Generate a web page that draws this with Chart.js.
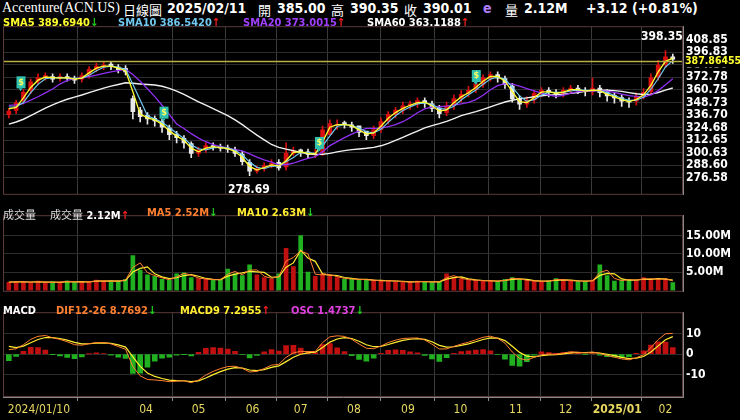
<!DOCTYPE html>
<html><head><meta charset="utf-8">
<script src="https://cdn.jsdelivr.net/npm/chart.js@4.4.1/dist/chart.umd.min.js"></script>
<style>
html,body{margin:0;padding:0;background:#000;width:740px;height:420px;overflow:hidden;font-family:"DejaVu Sans Condensed","DejaVu Sans",sans-serif}
canvas{position:absolute;left:0}
.t{position:absolute;white-space:nowrap;color:#fff;font-weight:bold;font-size:11px}
.h{position:absolute;white-space:nowrap;color:#fff;font-size:14px;top:0;font-weight:bold}
.k{font-family:'Noto Sans CJK TC';font-weight:normal;font-size:13px}
.up{color:#ff2020}.dn{color:#20d020}
</style></head><body>
<div class="h" style="left:2px;font-family:'Liberation Serif',serif;font-weight:normal">Accenture(ACN.US)</div>
<div class="h k" style="left:123px">日線圖</div>
<div class="h" style="left:167px">2025/02/11</div>
<div class="h k" style="left:258px">開</div>
<div class="h" style="left:277px">385.00</div>
<div class="h k" style="left:331px">高</div>
<div class="h" style="left:350px">390.35</div>
<div class="h k" style="left:404px">收</div>
<div class="h" style="left:423px">390.01</div>
<div class="h" style="left:483px;color:#b080ff">e</div>
<div class="h k" style="left:505px">量</div>
<div class="h" style="left:524px">2.12M</div>
<div class="h" style="left:586px">+3.12 (+0.81%)</div>

<canvas id="c1" width="740" height="189" style="top:16px"></canvas>
<canvas id="c2" width="740" height="97" style="top:205px"></canvas>
<canvas id="c3" width="740" height="118" style="top:302px"></canvas>

<div class="t" style="left:3px;top:16px;color:#ffff30">SMA5 389.6940<span class="dn">↓</span></div>
<div class="t" style="left:118px;top:16px;color:#70c8f0">SMA10 386.5420<span class="up">↑</span></div>
<div class="t" style="left:243px;top:16px;color:#a040ff">SMA20 373.0015<span class="up">↑</span></div>
<div class="t" style="left:367px;top:16px;color:#fff">SMA60 363.1188<span class="up">↑</span></div>
<div class="t" style="left:641px;top:29px;font-size:12px">398.35</div>
<div class="t" style="left:228px;top:182px;font-size:12px">278.69</div>

<div class="t" style="left:3px;top:206px;font-weight:normal;font-family:'Noto Sans CJK TC';color:#ddd">成交量</div>
<div class="t" style="left:50px;top:206px"><span style="font-weight:normal;font-family:'Noto Sans CJK TC';color:#ddd">成交量</span> 2.12M<span class="up">↑</span></div>
<div class="t" style="left:147px;top:206px;color:#ff8030">MA5 2.52M<span class="dn">↓</span></div>
<div class="t" style="left:237px;top:206px;color:#ffee30">MA10 2.63M<span class="dn">↓</span></div>

<div class="t" style="left:3px;top:304px">MACD</div>
<div class="t" style="left:56px;top:304px;color:#ff8030">DIF12-26 8.7692<span class="dn">↓</span></div>
<div class="t" style="left:180px;top:304px;color:#ffee30">MACD9 7.2955<span class="up">↑</span></div>
<div class="t" style="left:291px;top:304px;color:#e040e0">OSC 1.4737<span class="dn">↓</span></div>

<script>
// ---- data (one sample ≈ 3 trading days) ----
const preCloses=[308,305,300,298,302,310,316,322,330,333,335,338,342,345,348,345,350,348,345];
const closes=[340,348,358,368,372,374,371,373,372,370,374,380,383,384,383,380,378,340,335,333,331,325,318,315,310,300,303,307,306,305,304,300,292,283,285,288,290,286,300,302,301,299,300,322,328,327,328,325,320,317,322,330,337,341,345,347,350,348,343,338,345,352,356,360,366,372,375,372,366,352,347,350,357,360,358,357,360,362,360,359,362,358,355,353,350,349,354,358,372,384,392,390];
const opens=[337,341,350,360,369,373,373,372,373,371,371,375,381,383,385,382,381,352,341,336,333,330,324,318,314,309,300,304,307,306,305,303,299,291,283,286,288,291,287,300,303,301,299,301,318,327,329,327,326,321,317,323,331,337,341,346,347,350,347,343,339,346,353,357,361,366,372,375,371,364,352,347,351,357,360,358,357,360,362,360,359,362,358,355,353,350,350,355,359,373,385,392];
const highs=[343,351,361,371,376,377,376,376,376,374,377,383,386,387,387,385,384,355,344,339,336,333,327,321,317,311,306,310,310,309,308,306,302,294,288,291,294,294,310,306,304,304,304,326,332,332,331,330,324,320,326,334,340,344,349,350,353,353,350,346,349,356,360,364,369,375,378,378,374,367,355,354,360,363,363,361,363,365,365,363,372,365,361,358,356,353,358,362,376,389,398.35,395];
const lows=[334,338,347,357,366,370,368,369,369,367,368,372,378,380,380,377,375,333,330,328,326,320,313,310,305,296,297,301,303,302,301,297,289,278.69,281,283,286,284,284,298,297,295,296,298,324,323,324,321,316,313,314,320,328,334,338,342,344,344,340,334,336,342,349,354,358,363,369,368,362,349,342,344,348,354,354,353,354,357,357,355,356,354,350,348,345,344,346,352,356,370,382,386];
const volumes=[2.2,2.4,2.3,2.1,2.5,2.0,2.3,2.2,2.6,2.1,2.4,2.3,2.8,2.4,2.5,2.6,3.0,9.5,5.5,4.2,3.8,3.0,2.8,4.5,4.8,3.5,3.2,3.0,2.8,3.0,5.8,4.5,4.0,7.0,4.2,3.5,3.0,4.5,11.5,6.5,15.0,5.0,3.8,4.6,4.0,3.5,3.0,3.2,2.8,3.0,2.6,2.5,2.7,2.4,2.3,2.2,2.5,2.3,2.2,2.4,4.5,3.5,3.0,2.8,2.7,2.5,2.6,2.4,3.0,3.5,2.8,2.6,2.5,2.4,2.6,3.2,2.7,2.5,2.6,2.4,2.8,7.0,4.0,2.5,2.8,3.0,2.6,3.5,2.8,3.2,3.1,2.1];
const priceTicks=[276.58,288.60,300.63,312.65,324.68,336.70,348.73,360.75,372.78,384.80,396.83,408.85];
const volTicks=[5,10,15];
const macdTicks=[-10,0,10];
const monthPos=[0,18.8,26,33.4,40,47.3,54.7,61.9,69.5,76.3,83.4,90];
const monthLabels=['2024/01/10','04','05','06','07','08','09','10','11','12','2025/01','02'];
const refLine=387.86455;
const dividends=[[1.6,367],[21.2,338],[42.5,309],[64,373]];

// ---- derived ----
const N=closes.length;
const all=preCloses.concat(closes), P=preCloses.length;
function sma(arr,w,off){const r=[];for(let i=0;i<N;i++){let s=0,c=0;for(let j=i+off-w+1;j<=i+off;j++){if(j>=0){s+=arr[j];c++;}}r.push({x:i,y:s/c});}return r;}
const up=closes.map((c,i)=>c>=opens[i]);
const RED='#d81010',WHITE='#e8e8e8',GREEN='#20b020';
function ema(arr,n){const a=2/(n+1);const r=[arr[0]];for(let i=1;i<arr.length;i++)r.push(a*arr[i]+(1-a)*r[i-1]);return r;}
const e1=ema(all,4),e2=ema(all,9);
const difAll=e1.map((v,i)=>v-e2[i]);const deaAll=ema(difAll,3);
const dif=[],dea=[],osc=[];
for(let i=0;i<N;i++){dif.push({x:i,y:difAll[i+P]});dea.push({x:i,y:deaAll[i+P]});osc.push({x:i,y:2*(difAll[i+P]-deaAll[i+P])});}

const FF='DejaVu Sans Condensed';
Chart.defaults.font.family=FF;
const AXW=57;
function xScale(show){return{type:'linear',min:-0.8,max:92.4,offset:false,
  afterBuildTicks:s=>{s.ticks=monthPos.map(v=>({value:v}));},
  afterFit:s=>{if(show)s.height=23;},
  grid:{color:c=>c.index===0?'rgba(0,0,0,0)':'#3a3a3a',drawTicks:show,tickLength:4,tickColor:'#888'},
  border:{color:'#888',display:show},
  ticks:{display:false}};}
function yScale(min,max,ticks,fmt){return{position:'right',min,max,
  afterBuildTicks:s=>{s.ticks=ticks.map(v=>({value:v}));},
  afterFit:s=>{s.width=AXW;},
  grid:{color:'#2c2c2c',drawTicks:false},border:{color:'#888'},
  ticks:{color:'#fff',padding:3,autoSkip:false,font:{size:12,weight:'bold'},callback:fmt}};}
const frame={id:'frame',afterDraw(ch){const a=ch.chartArea,x=ch.ctx;x.save();x.strokeStyle='#5a3a3a';x.lineWidth=1;x.strokeRect(a.left+0.5,a.top+0.5,a.width-1,a.height-1);x.restore();}};
const base={responsive:false,animation:false,events:[],layout:{padding:{left:3,right:0,top:0,bottom:0}},plugins:{legend:{display:false},tooltip:{enabled:false}}};

// price
const extras={id:'extras',afterDatasetsDraw(ch){const x=ch.ctx,xs=ch.scales.x,ys=ch.scales.y;x.save();
  const yy=ys.getPixelForValue(refLine);x.strokeStyle='#b8b040';x.lineWidth=1.5;x.beginPath();x.moveTo(ch.chartArea.left,yy);x.lineTo(ch.chartArea.right,yy);x.stroke();
  x.fillStyle='#000';x.fillRect(ch.chartArea.right+1,yy-6,56,12);x.fillStyle='#ffff30';x.font='bold 10.5px '+FF;x.textBaseline='middle';x.fillText(refLine.toFixed(5),ch.chartArea.right+2,yy);
  dividends.forEach(([i,p])=>{const px=xs.getPixelForValue(i),py=ys.getPixelForValue(p);x.fillStyle='#30c0b0';x.fillRect(px-4,py-7,9,12);x.beginPath();x.moveTo(px-2,py+5);x.lineTo(px,py+8);x.lineTo(px+2,py+5);x.fill();x.fillStyle='#ffff60';x.font='bold 9px '+FF;x.textAlign='center';x.fillText('$',px+0.5,py-1);x.textAlign='left';});
  x.restore();}};
new Chart(document.getElementById('c1'),{type:'bar',data:{datasets:[
 {type:'line',data:sma(all,2,P),borderColor:'#ffff30',borderWidth:1.3,pointRadius:0,order:0},
 {type:'line',data:sma(all,3,P),borderColor:'#70c8f0',borderWidth:1.2,pointRadius:0,order:0},
 {type:'line',data:sma(all,7,P),borderColor:'#9030f0',borderWidth:1.3,pointRadius:0,order:0},
 {type:'line',data:sma(all,20,P),borderColor:'#f0f0f0',borderWidth:1.4,pointRadius:0,order:0},
 {data:closes.map((c,i)=>({x:i,y:[lows[i],highs[i]]})),backgroundColor:up.map(u=>u?RED:WHITE),barThickness:1,grouped:false,order:2},
 {data:closes.map((c,i)=>({x:i,y:[Math.min(opens[i],c),Math.max(opens[i],c)+0.4]})),backgroundColor:up.map(u=>u?RED:WHITE),barThickness:4,grouped:false,order:1}
]},options:{...base,scales:{x:xScale(false),y:yScale(260.4,421.6,priceTicks,v=>v.toFixed(2))}},plugins:[frame,extras]});

// volume
new Chart(document.getElementById('c2'),{type:'bar',data:{datasets:[
 {type:'line',data:sma(volumes,2,0),borderColor:'#ff8030',borderWidth:1,pointRadius:0,order:0},
 {type:'line',data:sma(volumes,3,0),borderColor:'#ffee30',borderWidth:1.2,pointRadius:0,order:0},
 {data:volumes.map((v,i)=>({x:i,y:v})),backgroundColor:up.map(u=>u?'#c01010':GREEN),barThickness:4,grouped:false,order:1}
]},options:{...base,scales:{x:xScale(false),y:yScale(-0.43,20.6,volTicks,v=>v.toFixed(2)+'M')}},plugins:[frame]});

// macd
const xLabels={id:'xl',afterDraw(ch){const x=ch.ctx,xs=ch.scales.x,b=ch.chartArea.bottom;x.save();x.fillStyle='#e8d860';x.textBaseline='top';
  monthPos.forEach((v,i)=>{x.font=(i===10?'bold ':'')+'12px '+FF;const px=xs.getPixelForValue(v);x.textAlign=i===0?'left':'center';x.fillText(monthLabels[i],i===0?px-1:px,b+7);});x.restore();}};
new Chart(document.getElementById('c3'),{type:'bar',data:{datasets:[
 {type:'line',data:dif,borderColor:'#ff8030',borderWidth:1,pointRadius:0,order:0},
 {type:'line',data:dea,borderColor:'#ffee30',borderWidth:1.2,pointRadius:0,order:0},
 {data:osc,backgroundColor:osc.map(o=>o.y>=0?'#c01010':GREEN),barThickness:5,grouped:false,order:1}
]},options:{...base,scales:{x:xScale(true),y:yScale(-20.9,20.4,macdTicks,v=>String(v))}},plugins:[frame,xLabels]});
</script>
</body></html>
